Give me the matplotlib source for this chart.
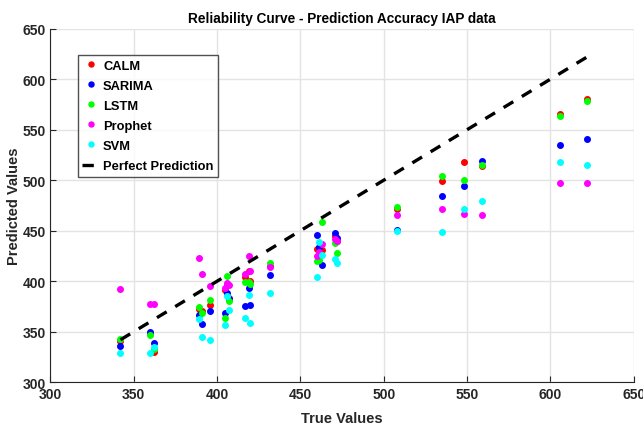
import matplotlib
matplotlib.use("Agg")
import matplotlib.pyplot as plt

true_vals = [342, 360, 362, 389, 391, 396, 405, 406, 407, 417, 419, 420, 432,
             460, 461, 463, 471, 472, 508, 535, 548, 559, 606, 622]
calm    = [341, 349, 330, 372, 370, 376, 391, 396, 383, 404, 410, 400.5, 415.5,
           432, 433, 431, 445, 440, 471, 499, 517.7, 514, 566, 580]
sarima  = [336, 350, 339, 367, 358, 370, 369, 388, 382, 375, 393, 376, 406,
           446, 434, 416, 448, 443, 451, 484, 494, 518.7, 535, 540.5]
lstm    = [343, 347, 333, 374, 369, 381, 364, 405.5, 380, 399, 399, 397, 418,
           420, 421, 459, 437.5, 428, 473, 504.5, 500, 515.5, 564, 578]
prophet = [392, 377, 377, 423, 407, 395, 393, 398, 396, 407, 425, 410, 414,
           425, 429, 437, 442, 440, 466, 471.5, 467, 466, 497, 497]
svm     = [329, 329, 335, 363, 345, 342, 357, 385, 371, 364, 386, 359, 388,
           404.5, 438.5, 426, 422, 418, 450, 449, 471, 479, 518, 515]

series = [("CALM", calm, "#ff0000"), ("SARIMA", sarima, "#0000ff"),
          ("LSTM", lstm, "#00ff00"), ("Prophet", prophet, "#ff00ff"),
          ("SVM", svm, "#00ffff")]

plt.rcParams["font.family"] = ["Liberation Sans", "DejaVu Sans"]
plt.rcParams["font.weight"] = "bold"

fig = plt.figure(figsize=(6.43, 4.27), dpi=100)
ax = fig.add_axes([0.0785, 0.1026, 0.907, 0.8278])

for name, vals, col in series:
    ax.plot(true_vals, vals, linestyle="none", marker="o", markersize=4,
            color=col, markeredgecolor=col, label=name)

lo, hi = min(true_vals), max(true_vals)
ax.plot([lo, hi], [lo, hi], "k--", linewidth=2.4, dashes=(3.4, 3.0),
        label="Perfect Prediction")

ax.set_xlim(300, 650)
ax.set_ylim(300, 650)
ax.set_xticks(range(300, 651, 50))
ax.set_yticks(range(300, 651, 50))
ax.grid(True, color="#e3e3e3", linewidth=1)
ax.set_axisbelow(True)
for s in ["top", "right"]:
    ax.spines[s].set_visible(False)
for s in ["left", "bottom"]:
    ax.spines[s].set_color("#262626")
ax.tick_params(direction="in", length=4, labelsize=10, colors="#262626",
               labelcolor="#262626")
for lab in ax.get_xticklabels() + ax.get_yticklabels():
    lab.set_fontweight("bold")

ax.set_xlabel("True Values", fontsize=10.5, fontweight="bold", color="#262626",
              labelpad=7)
ax.set_ylabel("Predicted Values", fontsize=10.5, fontweight="bold", color="#262626",
              labelpad=1)
ax.set_title("Reliability Curve - Prediction Accuracy IAP data", fontsize=9.8,
             fontweight="bold", color="#000000", pad=5)

leg = ax.legend(loc="upper left", bbox_to_anchor=(0.047, 0.925), fontsize=9.3,
                frameon=True, fancybox=False, edgecolor="#262626",
                handlelength=1.4, handletextpad=0.2, borderpad=0.35,
                borderaxespad=0.0, labelspacing=0.62, markerscale=0.9)
leg.get_frame().set_linewidth(1.0)
for t in leg.get_texts():
    t.set_fontweight("bold")

fig.savefig("out.png", dpi=100)
